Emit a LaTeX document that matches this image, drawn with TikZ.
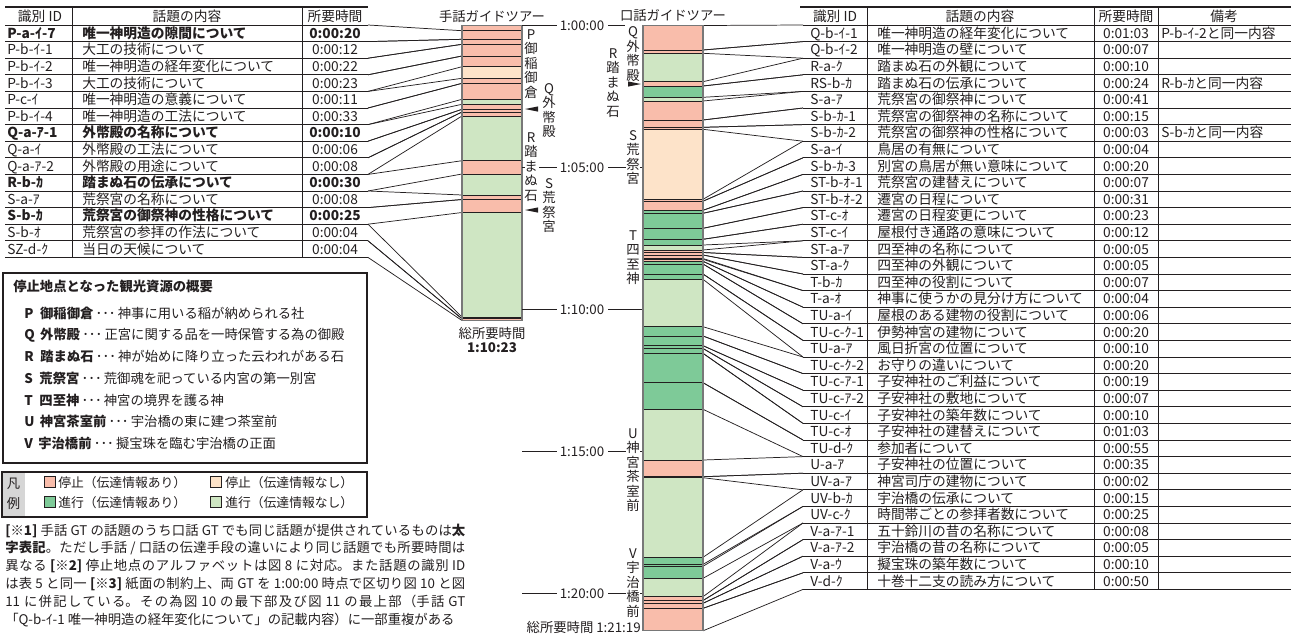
\documentclass[tikz,border=0pt]{standalone}
\usepackage{fontspec}
\setmainfont{Noto Sans CJK JP}
\XeTeXlinebreaklocale "ja"
\XeTeXlinebreakskip=0pt plus 1.5pt
\definecolor{stopA}{RGB}{249,189,171}
\definecolor{stopB}{RGB}{253,227,201}
\definecolor{goA}{RGB}{126,202,152}
\definecolor{goB}{RGB}{207,230,195}
\definecolor{ink}{RGB}{35,31,32}
\definecolor{barframe}{RGB}{120,120,120}
\definecolor{legendgray}{RGB}{214,214,214}
\newcommand{\vlabel}[4]{%
  \foreach \ch [count=\n from 0] in {#4} {\node[vl] (#1-\n) at (#2,{#3+\n*14.5}) {\ch};}}
\newcommand{\ldts}{\,･･･\,}
\begin{document}
\begin{tikzpicture}[x=0.75pt,y=-0.75pt,
  every node/.style={inner sep=0pt, text=ink},
  tbl/.style={text height=7.6pt, text depth=0pt, font=\fontsize{10.3}{12}\selectfont},
  vl/.style={text height=7.6pt, text depth=0pt, font=\fontsize{10}{12}\selectfont},
  lab/.style={text height=7.6pt, text depth=0pt, font=\fontsize{10}{12}\selectfont},
  rule/.style={line width=0.6pt, draw=ink},
  toprule/.style={line width=1.1pt, draw=ink},
  conn/.style={line width=0.55pt, draw=ink},
  seg/.style={line width=0.6pt, draw=ink},
  frame/.style={line width=0.8pt, draw=barframe},
  swatch/.style={line width=0.5pt, draw=ink}]
\useasboundingbox (0,0) rectangle (1293,636);

% ---------------- left table ----------------
\draw[toprule] (5,7) -- (368,7);
\node[tbl] (lh1) at (40,16) {識別 ID};
\node[tbl] (lh2) at (187,16) {話題の内容};
\node[tbl] (lh3) at (335,16) {所要時間};
\draw[rule] (72,7) -- (72,257.4);
\draw[rule] (302,7) -- (302,257.4);
\foreach \k in {0,...,14} \draw[rule] (5,{25+\k*16.6}) -- (368,{25+\k*16.6});
\foreach \i/\id/\txt/\tm/\bb in {
 1/P-a-ｲ-7/唯一神明造の隙間について/0:00:20/1,
 2/P-b-ｲ-1/大工の技術について/0:00:12/0,
 3/P-b-ｲ-2/唯一神明造の経年変化について/0:00:22/0,
 4/P-b-ｲ-3/大工の技術について/0:00:23/0,
 5/P-c-ｲ/唯一神明造の意義について/0:00:11/0,
 6/P-b-ｲ-4/唯一神明造の工法について/0:00:33/0,
 7/Q-a-ｱ-1/外幣殿の名称について/0:00:10/1,
 8/Q-a-ｲ/外幣殿の工法について/0:00:06/0,
 9/Q-a-ｱ-2/外幣殿の用途について/0:00:08/0,
 10/R-b-ｶ/踏まぬ石の伝承について/0:00:30/1,
 11/S-a-ｱ/荒祭宮の名称について/0:00:08/0,
 12/S-b-ｶ/荒祭宮の御祭神の性格について/0:00:25/1,
 13/S-b-ｵ/荒祭宮の参拝の作法について/0:00:04/0,
 14/SZ-d-ｸ/当日の天候について/0:00:04/0} {
  \pgfmathsetmacro{\yc}{25+(\i-0.5)*16.6}
  \ifnum\bb=1 \def\rf{\bfseries}\else\def\rf{}\fi
  \node[tbl,anchor=west] (lid\i) at (7,\yc) {\rf\id};
  \node[tbl,anchor=west] (ltx\i) at (82,\yc) {\rf\txt};
  \node[tbl] (ltm\i) at (335,\yc) {\rf\tm};
}
% left connectors
\foreach \i/\sa/\ea in {1/30.7/39.3, 2/39.3/44.3, 3/44.3/56, 4/56/66.7, 5/78.3/83.3,
  6/83.3/99.3, 7/104.3/109.3, 8/109.3/112, 9/112/116, 10/160.7/174, 11/195/199.5,
  12/199.5/212.5, 13/317/318.8, 14/318.8/320.5} {
  \draw[conn] (368,{25+(\i-1)*16.6}) -- (462,\sa);
  \draw[conn] (368,{25+\i*16.6}) -- (462,\ea);
}
% left bar
\foreach \ya/\yb/\cl in {25.5/66.7/stopA, 66.7/78.3/stopB, 78.3/99.3/stopA, 99.3/104.3/goB,
  104.3/116/stopA, 116/160.7/goB, 160.7/174/stopA, 174/195/goB, 195/212.5/stopA,
  212.5/317/goB, 317/320.5/stopA}
  \fill[\cl] (462,\ya) rectangle (522,\yb);
\foreach \y in {30.7,39.3,44.3,56,66.7,78.3,83.3,99.3,104.3,109.3,112,116,160.7,174,195,199.5,212.5,317,318.8}
  \draw[seg] (462,\y) -- (522,\y);
\draw[frame] (462,25.5) rectangle (522,320.5);
\node[lab] (ltitle) at (492,16) {手話ガイドツアー};
\node[lab] (ltot1) at (492,333) {総所要時間};
\node[lab,font=\fontsize{10}{12}\selectfont\bfseries] (ltot2) at (492,347) {1:10:23};
\vlabel{lP}{531}{34}{P,御,稲,御,倉}
\vlabel{lQ}{549}{88}{Q,外,幣,殿}
\vlabel{lR}{531}{137}{R,踏,ま,ぬ,石}
\vlabel{lS}{549}{183}{S,荒,祭,宮}
\fill[ink] (525,109) -- (538,106.4) -- (538,111.6) -- cycle;
\fill[ink] (525,210) -- (538,207.4) -- (538,212.6) -- cycle;

% ---------------- time axis ----------------
\foreach \t/\y [count=\j] in {1:00:00/25.5, 1:05:00/167.5, 1:10:00/309.5, 1:15:00/451.5, 1:20:00/593.5}
  \node[lab] (tm\j) at (582,\y) {\t};
\draw[rule] (522,25.5) -- (557,25.5);
\draw[rule] (522,167.5) -- (525,167.5);
\draw[rule] (539,167.5) -- (557,167.5);
\draw[rule] (522,309.5) -- (557,309.5);
\draw[rule] (522,451.5) -- (557,451.5);
\draw[rule] (522,593.5) -- (557,593.5);
\draw[rule] (608,25.5) -- (625,25.5);
\draw[rule] (608,167.5) -- (626,167.5);
\draw[rule] (640,167.5) -- (643,167.5);
\draw[rule] (608,309.5) -- (643,309.5);
\draw[rule] (608,451.5) -- (626,451.5);
\draw[rule] (640,451.5) -- (643,451.5);
\draw[rule] (608,593.5) -- (626,593.5);
\draw[rule] (640,593.5) -- (643,593.5);

% ---------------- right bar ----------------
\foreach \ya/\yb/\cl in {25.5/53.3/stopA, 53.3/81.7/goB, 81.7/86/stopA, 86/97.3/goA,
  97.3/101/goB, 101/129.3/stopA, 129.3/199.3/stopB, 199.3/210.3/stopA, 210.3/245/goA,
  245/250/goB, 250/261.3/stopA, 261.3/279.3/goA, 279.3/326.7/goB, 326.7/409.3/goA,
  409.3/460/goB, 460/476.7/stopA, 476.7/477.7/goA, 477.7/557.3/goB, 557.3/578.3/goA,
  578.3/596.7/goB, 596.7/630.8/stopA}
  \fill[\cl] (643,\ya) rectangle (703,\yb);
\foreach \i/\sa/\ea in {1/25.5/50, 2/50/53.3, 3/81.7/86, 4/86/97.3, 5/101/120, 6/120/127.3,
  7/127.3/129.3, 8/199.3/201.2, 9/201.2/210.3, 10/210.3/213.3, 11/213.3/228.3,
  12/228.3/239.3, 13/239.3/245, 14/250/252.5, 15/252.5/255, 16/255/258.5,
  17/259.3/261.3, 18/261.3/264, 19/264/274, 20/274/279.3, 21/326.7/336,
  22/336/345.7, 23/345.7/348.5, 24/348.5/353.3, 25/353.3/382.7, 26/382.7/409.3,
  27/460/476.7, 28/476.7/477.7, 29/557.3/564.4, 30/566.3/578.3, 31/596.7/600.5,
  32/600.5/603.3, 33/603.3/608.3, 34/608.3/630.8} {
  \ifnum\i>1 \draw[seg] (643,\sa) -- (703,\sa);\fi
  \ifnum\i<34 \draw[seg] (643,\ea) -- (703,\ea);\fi
  \draw[conn] (703,\sa) -- (803,{25+(\i-1)*16.6});
  \draw[conn] (703,\ea) -- (803,{25+\i*16.6});
}
\draw[frame] (643,25.5) rectangle (703,630.8);
\node[lab] (rtitle) at (673,15) {口話ガイドツアー};
\node[lab,anchor=east] (rtot) at (641,627) {総所要時間 1:21:19};
\vlabel{rQ}{633}{31.5}{Q,外,幣,殿}
\vlabel{rR}{613}{53}{R,踏,ま,ぬ,石}
\vlabel{rS}{633}{135}{S,荒,祭,宮}
\vlabel{rT}{633}{235}{T,四,至,神}
\vlabel{rU}{633}{433}{U,神,宮,茶,室,前}
\vlabel{rV}{633}{553}{V,宇,治,橋,前}
\fill[ink] (641,84) -- (628,81.4) -- (628,86.6) -- cycle;

% ---------------- right table ----------------
\draw[toprule] (800,7) -- (1291,7);
\node[tbl] (rh1) at (835,16) {識別 ID};
\node[tbl] (rh2) at (980,16) {話題の内容};
\node[tbl] (rh3) at (1126,16) {所要時間};
\node[tbl] (rh4) at (1224,16) {備考};
\foreach \x in {867,1094,1158} \draw[rule] (\x,7) -- (\x,589.4);
\foreach \k in {0,...,34} \draw[rule] (803,{25+\k*16.6}) -- (1291,{25+\k*16.6});
\foreach \i/\id/\txt/\tm in {
 1/Q-b-ｲ-1/唯一神明造の経年変化について/0:01:03,
 2/Q-b-ｲ-2/唯一神明造の壁について/0:00:07,
 3/R-a-ｸ/踏まぬ石の外観について/0:00:10,
 4/RS-b-ｶ/踏まぬ石の伝承について/0:00:24,
 5/S-a-ｱ/荒祭宮の御祭神について/0:00:41,
 6/S-b-ｶ-1/荒祭宮の御祭神の名称について/0:00:15,
 7/S-b-ｶ-2/荒祭宮の御祭神の性格について/0:00:03,
 8/S-a-ｲ/鳥居の有無について/0:00:04,
 9/S-b-ｶ-3/別宮の鳥居が無い意味について/0:00:20,
 10/ST-b-ｵ-1/荒祭宮の建替えについて/0:00:07,
 11/ST-b-ｵ-2/遷宮の日程について/0:00:31,
 12/ST-c-ｵ/遷宮の日程変更について/0:00:23,
 13/ST-c-ｲ/屋根付き通路の意味について/0:00:12,
 14/ST-a-ｱ/四至神の名称について/0:00:05,
 15/ST-a-ｸ/四至神の外観について/0:00:05,
 16/T-b-ｶ/四至神の役割について/0:00:07,
 17/T-a-ｵ/神事に使うかの見分け方について/0:00:04,
 18/TU-a-ｲ/屋根のある建物の役割について/0:00:06,
 19/TU-c-ｸ-1/伊勢神宮の建物について/0:00:20,
 20/TU-a-ｱ/風日折宮の位置について/0:00:10,
 21/TU-c-ｸ-2/お守りの違いについて/0:00:20,
 22/TU-c-ｱ-1/子安神社のご利益について/0:00:19,
 23/TU-c-ｱ-2/子安神社の敷地について/0:00:07,
 24/TU-c-ｲ/子安神社の築年数について/0:00:10,
 25/TU-c-ｵ/子安神社の建替えについて/0:01:03,
 26/TU-d-ｸ/参加者について/0:00:55,
 27/U-a-ｱ/子安神社の位置について/0:00:35,
 28/UV-a-ｱ/神宮司庁の建物について/0:00:02,
 29/UV-b-ｶ/宇治橋の伝承について/0:00:15,
 30/UV-c-ｸ/時間帯ごとの参拝者数について/0:00:25,
 31/V-a-ｱ-1/五十鈴川の昔の名称について/0:00:08,
 32/V-a-ｱ-2/宇治橋の昔の名称について/0:00:05,
 33/V-a-ｳ/擬宝珠の築年数について/0:00:10,
 34/V-d-ｸ/十巻十二支の読み方について/0:00:50} {
  \pgfmathsetmacro{\yc}{25+(\i-0.5)*16.6}
  \node[tbl,anchor=west] (rid\i) at (810,\yc) {\id};
  \node[tbl,anchor=west] (rtx\i) at (877,\yc) {\txt};
  \node[tbl] (rtm\i) at (1126,\yc) {\tm};
}
\node[tbl,anchor=west] (rnote1) at (1161,{25+0.5*16.6}) {P-b-ｲ-2と同一内容};
\node[tbl,anchor=west] (rnote4) at (1161,{25+3.5*16.6}) {R-b-ｶと同一内容};
\node[tbl,anchor=west] (rnote7) at (1161,{25+6.5*16.6}) {S-b-ｶと同一内容};

% ---------------- summary box ----------------
\draw[line width=0.8pt, draw=ink] (3,273) rectangle (367,463);
\node[lab,anchor=west,font=\fontsize{10}{12}\selectfont\bfseries] (sumt) at (13,286) {停止地点となった観光資源の概要};
\node[lab,anchor=west] (sP) at (24,313) {\textbf{P}\hspace{5pt}\textbf{御稲御倉}\ldts 神事に用いる稲が納められる社};
\node[lab,anchor=west] (sQ) at (24,334.8) {\textbf{Q}\hspace{4pt}\textbf{外幣殿}\ldts 正宮に関する品を一時保管する為の御殿};
\node[lab,anchor=west] (sR) at (24,356.5) {\textbf{R}\hspace{5pt}\textbf{踏まぬ石}\ldts 神が始めに降り立った云われがある石};
\node[lab,anchor=west] (sS) at (24,378.3) {\textbf{S}\hspace{5pt}\textbf{荒祭宮}\ldts 荒御魂を祀っている内宮の第一別宮};
\node[lab,anchor=west] (sT) at (24,400) {\textbf{T}\hspace{5pt}\textbf{四至神}\ldts 神宮の境界を護る神};
\node[lab,anchor=west] (sU) at (24,421.8) {\textbf{U}\hspace{4pt}\textbf{神宮茶室前}\ldts 宇治橋の東に建つ茶室前};
\node[lab,anchor=west] (sV) at (24,443.5) {\textbf{V}\hspace{4pt}\textbf{宇治橋前}\ldts 擬宝珠を臨む宇治橋の正面};

% ---------------- legend ----------------
\fill[legendgray] (2,472) rectangle (25,517);
\draw[line width=0.8pt, draw=ink] (2,472) rectangle (367,517);
\node[lab] (lg1) at (13.5,483) {凡};
\node[lab] (lg2) at (13.5,503) {例};
\draw[swatch, fill=stopA] (44,476.5) rectangle (55,487.5);
\draw[swatch, fill=stopB] (210,476.5) rectangle (221,487.5);
\draw[swatch, fill=goA] (44,496.5) rectangle (55,507.5);
\draw[swatch, fill=goB] (210,496.5) rectangle (221,507.5);
\node[lab,anchor=west,font=\fontsize{9.6}{12}\selectfont] (lgA) at (58,482) {停止（伝達情報あり）};
\node[lab,anchor=west,font=\fontsize{9.6}{12}\selectfont] (lgB) at (225,482) {停止（伝達情報なし）};
\node[lab,anchor=west,font=\fontsize{9.6}{12}\selectfont] (lgC) at (58,502) {進行（伝達情報あり）};
\node[lab,anchor=west,font=\fontsize{9.6}{12}\selectfont] (lgD) at (225,502) {進行（伝達情報なし）};

% ---------------- notes ----------------
\node[anchor=north west, text width=345pt, align=justify, font=\fontsize{10}{13.35}\selectfont] (notes) at (5,523.5) {%
\textbf{[※1]} 手話 GT の話題のうち口話 GT でも同じ話題が提供されているものは\textbf{太}\linebreak
\textbf{字表記}。ただし手話 / 口話の伝達手段の違いにより同じ話題でも所要時間は\linebreak
異なる \textbf{[※2]} 停止地点のアルファベットは図 8 に対応。また話題の識別 ID\linebreak
は表 5 と同一 \textbf{[※3]} 紙面の制約上、両 GT を 1:00:00 時点で区切り図 10 と図\linebreak
11 に併記している。その為図 10 の最下部及び図 11 の最上部（手話 GT\linebreak
「Q-b-ｲ-1 唯一神明造の経年変化について」の記載内容）に一部重複がある};
\end{tikzpicture}
\end{document}
